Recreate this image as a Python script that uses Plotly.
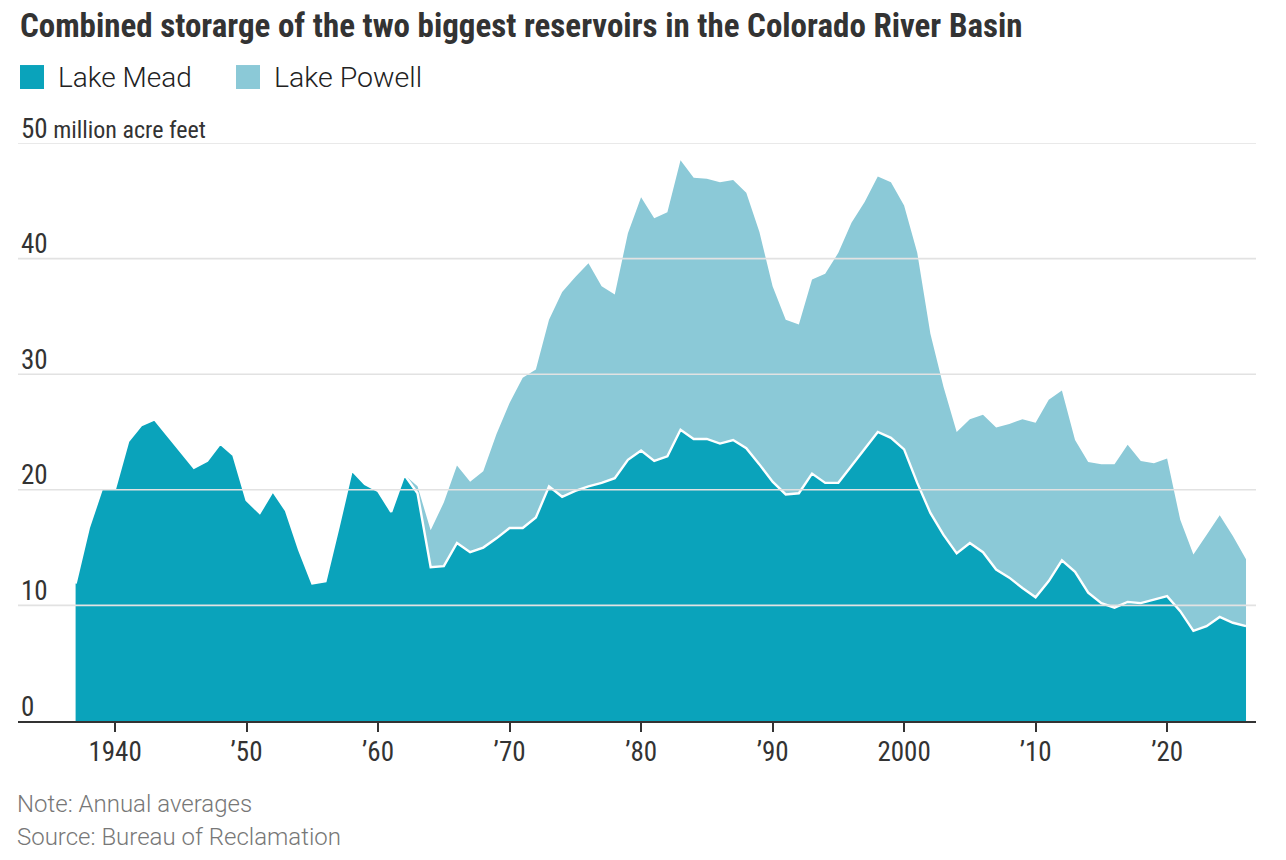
import plotly.graph_objects as go

years = list(range(1937, 2027))

# Lake Mead, million acre feet (annual averages)
mead = [11.9, 16.7, 20.1, 20.1, 24.2, 25.6, 26.1, 24.7, 23.3, 21.9,
        22.5, 24.0, 23.0, 19.1, 18.0, 19.9, 18.2, 14.8, 11.9, 12.1,
        16.8, 21.7, 20.5, 19.9, 18.1, 21.3, 19.7, 13.3, 13.4, 15.4,
        14.6, 15.0, 15.8, 16.7, 16.7, 17.6, 20.3, 19.4, 19.9, 20.3,
        20.6, 21.0, 22.6, 23.4, 22.5, 22.9, 25.2, 24.4, 24.4, 24.0,
        24.3, 23.6, 22.2, 20.7, 19.6, 19.7, 21.4, 20.6, 20.6, 22.1,
        23.6, 25.0, 24.5, 23.5, 20.6, 18.0, 16.1, 14.5, 15.4, 14.6,
        13.1, 12.4, 11.5, 10.7, 12.1, 13.9, 12.9, 11.1, 10.2, 9.8,
        10.3, 10.2, 10.5, 10.8, 9.5, 7.8, 8.2, 9.0, 8.5, 8.2]

# Lake Powell, filled from 1963
powell_years = list(range(1963, 2027))
powell = [0.6, 3.2, 5.5, 6.7, 6.1, 6.6, 9.0, 10.8, 13.0, 12.8,
          14.4, 17.7, 18.5, 19.3, 17.0, 15.9, 19.6, 21.9, 21.0, 21.1,
          23.3, 22.6, 22.5, 22.6, 22.5, 22.1, 20.1, 16.9, 15.1, 14.6,
          16.8, 18.1, 19.9, 21.0, 21.3, 22.1, 22.1, 21.1, 19.9, 15.5,
          12.8, 10.5, 10.7, 11.9, 12.3, 13.3, 14.6, 15.1, 15.7, 14.7,
          11.4, 11.3, 12.0, 12.4, 13.6, 12.3, 11.8, 11.9, 7.9, 6.6,
          7.9, 8.8, 7.5, 5.8]

x_ticks = [1940, 1950, 1960, 1970, 1980, 1990, 2000, 2010, 2020]
x_labels = ["1940", "\u201950", "\u201960", "\u201970", "\u201980",
            "\u201990", "2000", "\u201910", "\u201920"]
y_ticks = [0, 10, 20, 30, 40, 50]
y_labels = ["0", "10", "20", "30", "40",
            "50<span style='font-size:24px'> million acre feet</span>"]

MEAD_C = "#0aa3bb"
POWELL_C = "#8bc9d7"
NARROW = "Liberation Sans Narrow, Arial Narrow, Roboto Condensed, Roboto, sans-serif"
PLAIN = "Roboto, Lato, sans-serif"

fig = go.Figure()
fig.add_trace(go.Scatter(x=years, y=mead, stackgroup="s", name="Lake Mead",
                         mode="lines", line=dict(width=0, color=MEAD_C),
                         fillcolor=MEAD_C, showlegend=False))
fig.add_trace(go.Scatter(x=powell_years, y=powell, stackgroup="s",
                         name="Lake Powell", mode="lines",
                         line=dict(width=0, color=POWELL_C),
                         fillcolor=POWELL_C, showlegend=False))
# white edge between the two lakes
fig.add_trace(go.Scatter(x=years, y=mead, mode="lines",
                         line=dict(width=2.4, color="white"),
                         showlegend=False, hoverinfo="skip"))

# gridlines sit on top of the areas
for v in y_ticks[1:]:
    fig.add_shape(type="line", xref="paper", x0=0, x1=1, yref="y", y0=v, y1=v,
                  line=dict(color="#e2e2e2", width=1.6), layer="above")

# legend swatches
fig.add_shape(type="rect", xref="paper", yref="paper",
              x0=0.0016, x1=0.0210, y0=1.0934, y1=1.1349,
              fillcolor=MEAD_C, line_width=0)
fig.add_shape(type="rect", xref="paper", yref="paper",
              x0=0.1761, x1=0.1955, y0=1.0934, y1=1.1349,
              fillcolor=POWELL_C, line_width=0)
fig.add_annotation(text="Lake Mead", xref="paper", yref="paper",
                   x=0.0305, y=1.1125, xanchor="left", yanchor="middle",
                   showarrow=False, font=dict(family=PLAIN, size=28, color="#222", weight=300))
fig.add_annotation(text="Lake Powell", xref="paper", yref="paper",
                   x=0.2055, y=1.1125, xanchor="left", yanchor="middle",
                   showarrow=False, font=dict(family=PLAIN, size=28.5, color="#222", weight=300))

fig.add_annotation(text="Note: Annual averages", xref="paper", yref="paper",
                   x=-0.0025, y=-0.1436, xanchor="left", yanchor="middle",
                   showarrow=False, font=dict(family=PLAIN, size=24, color="#777", weight=300))
fig.add_annotation(text="Source: Bureau of Reclamation", xref="paper", yref="paper",
                   x=-0.0025, y=-0.2007, xanchor="left", yanchor="middle",
                   showarrow=False, font=dict(family=PLAIN, size=24, color="#777", weight=300))

fig.update_layout(
    width=1286, height=860,
    margin=dict(l=18, r=30, t=143, b=139),
    paper_bgcolor="white", plot_bgcolor="white",
    title=dict(text="<b>Combined storarge of the two biggest reservoirs in the Colorado River Basin</b>",
               xref="container", yref="container", x=0.0155, y=1 - 25 / 860,
               xanchor="left", yanchor="middle",
               font=dict(family=NARROW, size=33, color="#333")),
    showlegend=False,
    hovermode=False,
)
fig.update_xaxes(range=[1932.62, 2026.76], tickvals=x_ticks, ticktext=x_labels,
                 showgrid=False, zeroline=False, showline=True,
                 linecolor="#333", linewidth=2, ticks="outside", ticklen=9,
                 tickwidth=1.5, tickcolor="#333", ticklabelstandoff=-3,
                 tickfont=dict(family=NARROW, size=27, color="#333"))
fig.update_yaxes(range=[0, 50], tickvals=y_ticks, ticktext=y_labels,
                 showgrid=False, zeroline=False, showline=False, ticks="",
                 ticklabelposition="inside top", ticklabeloverflow="allow",
                 ticklabelshift=4,
                 tickfont=dict(family=NARROW, size=27, color="#333"))

# drop the default page margin so the figure sits at the window corner
fig.write_html("out.html", config={"displayModeBar": False},
               post_script="document.body.style.margin='0';")
